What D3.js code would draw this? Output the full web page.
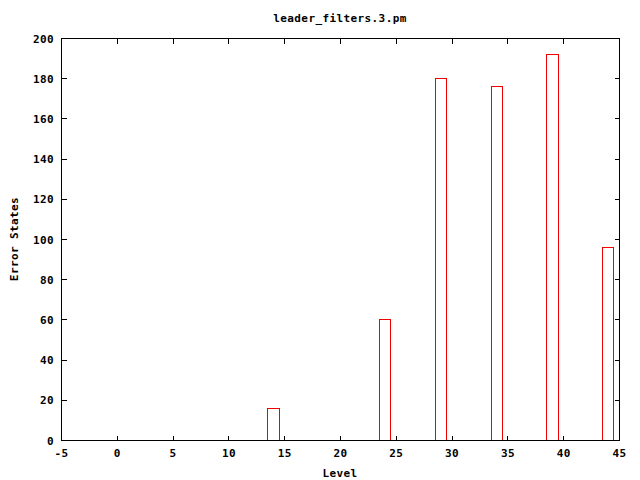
<!DOCTYPE html>
<html><head><meta charset="utf-8">
<script src="https://cdn.jsdelivr.net/npm/d3@7"></script>
<style>body{margin:0;background:#fff}svg{display:block}text{font-family:"DejaVu Sans Mono",monospace;font-weight:bold;font-size:11px;letter-spacing:0.4px;fill:#000}</style>
</head><body><svg id="c" width="640" height="480"></svg>
<script>
const levels = [14, 24, 29, 34, 39, 44];
const errorStates = [16, 60, 180, 176, 192, 96];
const xTicks = [-5, 0, 5, 10, 15, 20, 25, 30, 35, 40, 45];
const yTicks = [0, 20, 40, 60, 80, 100, 120, 140, 160, 180, 200];
const title = "leader_filters.3.pm";
const xLabel = "Level";
const yLabel = "Error States";

const svg = d3.select("#c");
const L = 61.5, R = 619.5, T = 38.5, B = 440.5;
const x = d3.scaleLinear().domain([-5, 45]).range([L, R]);
const y = d3.scaleLinear().domain([0, 200]).range([B, T]);
const px = v => Math.floor(v) + 0.5;
const tl = 5;

const g = svg.append("g").attr("shape-rendering", "crispEdges");

// bars
g.selectAll("rect.bar").data(levels).join("rect")
  .attr("class", "bar")
  .attr("x", d => px(x(d - 0.5)))
  .attr("width", d => px(x(d + 0.5)) - px(x(d - 0.5)))
  .attr("y", (d, i) => px(y(errorStates[i])))
  .attr("height", (d, i) => B - px(y(errorStates[i])))
  .attr("fill", "none").attr("stroke", "#f00000").attr("stroke-width", 1);

// ticks
xTicks.forEach(t => {
  const xx = px(x(t));
  g.append("line").attr("x1", xx).attr("x2", xx).attr("y1", B).attr("y2", B - tl).attr("stroke", "#000");
  g.append("line").attr("x1", xx).attr("x2", xx).attr("y1", T).attr("y2", T + tl).attr("stroke", "#000");
  svg.append("text").attr("x", x(t)).attr("y", 457).attr("text-anchor", "middle").text(t);
});
yTicks.forEach(t => {
  const yy = px(y(t));
  g.append("line").attr("x1", L).attr("x2", L + tl).attr("y1", yy).attr("y2", yy).attr("stroke", "#000");
  g.append("line").attr("x1", R).attr("x2", R - tl).attr("y1", yy).attr("y2", yy).attr("stroke", "#000");
  svg.append("text").attr("x", 54).attr("y", y(t) + 4).attr("text-anchor", "end").text(t);
});

// frame
g.append("rect").attr("x", L).attr("y", T).attr("width", R - L).attr("height", B - T)
  .attr("fill", "none").attr("stroke", "#000");

svg.append("text").attr("x", 340).attr("y", 22).attr("text-anchor", "middle").text(title);
svg.append("text").attr("x", 340).attr("y", 477).attr("text-anchor", "middle").text(xLabel);
svg.append("text").attr("transform", "translate(18,239) rotate(-90)").attr("text-anchor", "middle").text(yLabel);
</script></body></html>
